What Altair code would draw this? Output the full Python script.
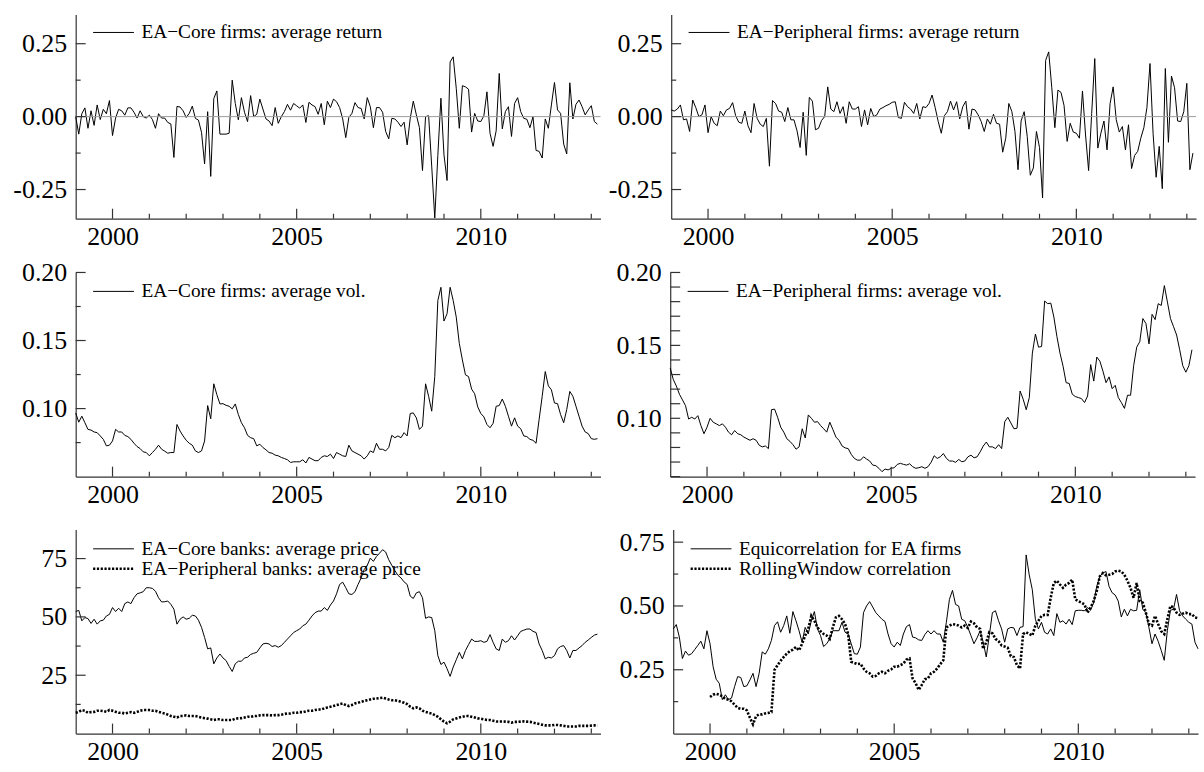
import altair as alt
import pandas as pd

# ---------------- data (monthly, first month Jan 1999) ----------------
START_YEAR = 1999.0

core_ret = [0.00, -0.06, 0.01, 0.03, -0.04, 0.02, -0.03, 0.04, -0.01, 0.025,
 0.01, 0.055, -0.065, -0.005, 0.025, 0.02, 0.005, 0.03, 0.03, 0.015,
 -0.005, 0.02, 0.00, -0.005, 0.005, -0.01, -0.04, 0.01, -0.005, -0.005,
 -0.02, -0.025, -0.14, 0.035, 0.033, 0.02, -0.003, 0.011, 0.036, -0.006,
 -0.012, -0.054, -0.162, 0.017, -0.205, 0.062, 0.088, -0.06, -0.06, -0.06,
 -0.057, 0.125, 0.045, -0.011, 0.065, 0.015, -0.017, 0.072, 0.0, 0.008,
 0.06, 0.026, -0.008, -0.015, -0.031, 0.031, -0.023, 0.0, 0.017, 0.042,
 0.022, 0.045, 0.037, 0.029, 0.04, -0.02, 0.049, 0.04, 0.034, 0.008,
 0.045, -0.028, 0.053, 0.031, 0.060, 0.051, 0.031, -0.008, -0.072, -0.003,
 0.011, 0.048, 0.031, 0.028, -0.008, 0.065, 0.034, -0.038, 0.031, 0.031,
 0.015, -0.051, -0.076, -0.006, -0.008, -0.019, -0.034, -0.019, -0.097, -0.006,
 0.053, 0.006, -0.038, -0.185, 0.0, 0.003, -0.17, -0.348, -0.133, 0.063,
 -0.131, -0.219, 0.1875, 0.205, 0.097, -0.040, 0.106, 0.102, 0.094, -0.053,
 0.011, -0.015, -0.017, 0.003, 0.085, -0.057, -0.102, -0.049, 0.148, -0.042,
 0.017, 0.034, -0.068, 0.045, 0.065, 0.017, -0.006, -0.009, -0.038, 0.0,
 -0.116, -0.119, -0.142, -0.008, -0.040, 0.040, 0.117, 0.023, 0.011, -0.094,
 -0.128, 0.116, -0.008, 0.042, 0.057, 0.034, 0.006, 0.023, 0.0375, -0.017,
 -0.026]

peri_ret = [0.023, 0.019, 0.026, 0.040, -0.011, -0.008, -0.051, 0.057, 0.031, 0.0,
 0.006, 0.040, -0.055, 0.0, -0.023, -0.031, 0.019, 0.003, 0.023, 0.028,
 0.048, 0.003, -0.019, -0.023, 0.019, -0.031, -0.055, 0.045, -0.006, -0.026,
 -0.034, -0.006, -0.170, 0.055, 0.045, 0.019, 0.015, -0.017, 0.031, -0.011,
 -0.011, -0.049, -0.106, 0.015, -0.133, 0.066, 0.053, -0.045, -0.040, -0.013,
 0.0, 0.102, 0.026, 0.017, 0.051, 0.011, 0.034, -0.023, 0.051, 0.026,
 0.026, 0.034, -0.034, 0.023, -0.028, 0.028, 0.0, 0.006, 0.026, 0.031,
 0.0375, 0.042, 0.049, 0.051, -0.003, -0.006, 0.049, 0.034, 0.026, 0.011,
 0.045, -0.008, 0.034, 0.031, 0.045,
 0.074, 0.031, -0.017, -0.057, 0.003, 0.017, 0.053, 0.023, 0.051, -0.008,
 0.034, 0.053, -0.043, 0.026, 0.023, 0.006, -0.017, -0.051, -0.008, -0.026,
 0.008, -0.023, -0.026, -0.122, -0.074, 0.045, 0.017, -0.051, -0.182, -0.015,
 0.017, -0.068, -0.201, -0.176, -0.051, -0.106, -0.279, 0.193, 0.222, 0.099,
 -0.038, 0.091, 0.083, 0.038, -0.085, -0.023, -0.053, -0.057, -0.074, 0.088,
 -0.063, -0.185, 0.011, 0.199, -0.108, -0.057, -0.015, -0.114, 0.045, 0.102,
 -0.011, -0.053, -0.034, -0.114, -0.028, -0.178, -0.133, -0.119, -0.074, -0.038,
 0.031, 0.182, -0.057, -0.208, -0.102, -0.247, 0.165, -0.088, 0.139, 0.099,
 -0.015, -0.017, 0.017, 0.114, -0.182, -0.125]

core_vol = [0.0968, 0.0900, 0.0944, 0.0896, 0.0847, 0.0842, 0.0828, 0.0823, 0.0799, 0.0774,
 0.0726, 0.0731, 0.0762, 0.0847, 0.0828, 0.0828, 0.0803, 0.0794, 0.0774, 0.0745,
 0.0721, 0.0706, 0.0682, 0.0677, 0.0653, 0.0677, 0.0701, 0.0731, 0.0701, 0.0687,
 0.0672, 0.0677, 0.0677, 0.0883, 0.0835, 0.0799, 0.0767, 0.0745, 0.0731, 0.0689,
 0.0677, 0.0689, 0.0762, 0.1022, 0.0925, 0.1182, 0.1102, 0.1034, 0.1036, 0.1024,
 0.1017, 0.0998, 0.1034, 0.0956, 0.0896, 0.0859, 0.0803, 0.0786, 0.0779, 0.0726,
 0.0738, 0.0714, 0.0697, 0.0677, 0.0672, 0.0658, 0.0653, 0.0641, 0.0633, 0.0624,
 0.0604, 0.0609, 0.0609, 0.0609, 0.0624, 0.0600, 0.0641, 0.0629, 0.0617, 0.0617,
 0.0641, 0.0653, 0.0648, 0.0665, 0.0633, 0.0677, 0.0665, 0.0653, 0.0648, 0.0731,
 0.0689, 0.0677, 0.0665, 0.0653, 0.0629, 0.0653, 0.0689, 0.0677, 0.0745, 0.0701,
 0.0701, 0.0689, 0.0714, 0.0803, 0.0786, 0.0799, 0.0786, 0.0823, 0.0799, 0.0964,
 0.0968, 0.0932, 0.0847, 0.0871, 0.1182, 0.1090, 0.0981, 0.1235, 0.1794, 0.1891,
 0.1643, 0.1697, 0.1891, 0.1794, 0.1672, 0.1478, 0.1357, 0.1248, 0.1235, 0.1143,
 0.1109, 0.1012, 0.0964, 0.0939, 0.0883, 0.0859, 0.0891, 0.1017, 0.1022, 0.1070,
 0.1017, 0.0944, 0.0871, 0.0932, 0.0871, 0.0852, 0.0799, 0.0794, 0.0774, 0.0767,
 0.0745, 0.0920, 0.1090, 0.1272, 0.1167, 0.1138, 0.1041, 0.1036, 0.0956, 0.0896,
 0.0993, 0.1126, 0.1090, 0.1017, 0.0944, 0.0871, 0.0828, 0.0816, 0.0779, 0.0774,
 0.0779]

peri_vol = [0.1345, 0.1266, 0.1221, 0.1165, 0.1126, 0.1086, 0.0995, 0.1007, 0.0995, 0.1018,
 0.0950, 0.0894, 0.0939, 0.1000, 0.0973, 0.0962, 0.0950, 0.0962, 0.0939, 0.0905,
 0.0887, 0.0916, 0.0894, 0.0887, 0.0871, 0.0860, 0.0849, 0.0860, 0.0849, 0.0815,
 0.0804, 0.0810, 0.0792, 0.1059, 0.1063, 0.1007, 0.0939, 0.0905, 0.0860, 0.0842,
 0.0819, 0.0788, 0.0804, 0.0928, 0.0865, 0.1023, 0.1000, 0.0973, 0.0977, 0.0950,
 0.0928, 0.0905, 0.0973, 0.0923, 0.0871, 0.0849, 0.0810, 0.0797, 0.0792, 0.0752,
 0.0725, 0.0713, 0.0713, 0.0736, 0.0720, 0.0707, 0.0679, 0.0675, 0.0657, 0.0634,
 0.0652, 0.0646, 0.0657, 0.0661, 0.0684, 0.0691, 0.0684, 0.0679, 0.0688, 0.0668,
 0.0657, 0.0661, 0.0668, 0.0657, 0.0668,
 0.0698, 0.0743, 0.0725, 0.0736, 0.0758, 0.0725, 0.0707, 0.0707, 0.0698, 0.0718,
 0.0702, 0.0707, 0.0736, 0.0747, 0.0729, 0.0736, 0.0770, 0.0810, 0.0837, 0.0804,
 0.0804, 0.0792, 0.0819, 0.0792, 0.0977, 0.1007, 0.0968, 0.0928, 0.0932, 0.1187,
 0.1131, 0.1059, 0.1142, 0.1447, 0.1578, 0.1488, 0.1492, 0.1804, 0.1786, 0.1790,
 0.1695, 0.1560, 0.1447, 0.1357, 0.1244, 0.1239, 0.1165, 0.1149, 0.1142, 0.1135,
 0.1108, 0.1153, 0.1368, 0.1255, 0.1420, 0.1391, 0.1323, 0.1244, 0.1284, 0.1203,
 0.1226, 0.1142, 0.1108, 0.1068, 0.1158, 0.1158, 0.1361, 0.1488, 0.1526, 0.1684,
 0.1650, 0.1510, 0.1713, 0.1677, 0.1786, 0.1774, 0.1910, 0.1797, 0.1684, 0.1628,
 0.1571, 0.1470, 0.1361, 0.1316, 0.1361, 0.1470]

core_price = [52.3, 52.8, 48.3, 49.7, 49.3, 47.2, 49.0, 46.9, 48.3, 48.6,
 50.4, 51.1, 54.0, 52.3, 53.7, 52.3, 55.7, 56.4, 55.7, 58.2,
 59.9, 60.3, 60.8, 62.5, 62.5, 62.2, 61.0, 58.2, 56.4, 56.5,
 56.8, 55.4, 53.3, 46.9, 49.0, 50.0, 49.0, 49.4, 50.7, 50.4,
 48.6, 45.5, 41.2, 36.3, 36.7, 29.9, 32.4, 34.1, 32.4, 31.3,
 28.8, 26.6, 29.9, 31.0, 31.0, 32.4, 32.7, 33.9, 34.4, 34.8,
 36.7, 38.4, 38.7, 38.4, 37.3, 37.7, 37.0, 37.7, 39.1, 40.5,
 41.9, 43.3, 44.1, 44.8, 46.2, 46.9, 48.6, 50.4, 51.8, 52.5,
 52.5, 54.0, 52.8, 55.1, 56.8, 59.9, 63.9, 64.9, 62.5, 59.9,
 59.6, 60.8, 63.9, 66.7, 70.3, 72.1, 75.2, 73.8, 75.9, 77.3,
 78.8, 77.8, 74.5, 72.1, 69.8, 67.8, 66.7, 65.0, 63.9, 58.9,
 57.9, 60.3, 60.8, 58.2, 49.4, 50.0, 49.7, 44.1, 33.4, 29.6,
 30.6, 27.8, 24.5, 28.5, 31.6, 34.8, 32.0, 35.6, 38.1, 40.5,
 39.5, 39.5, 39.8, 39.1, 39.5, 42.4, 39.1, 36.3, 35.6, 40.5,
 39.1, 39.8, 41.9, 40.1, 41.9, 43.8, 44.3, 44.8, 44.8, 43.8,
 43.3, 38.4, 35.6, 32.0, 32.7, 32.4, 33.4, 36.3, 37.3, 37.7,
 35.6, 32.4, 35.6, 35.6, 36.7, 37.7, 39.1, 40.1, 41.2, 42.2,
 42.6]

peri_price = [8.9, 9.3, 10.1, 9.8, 8.9, 9.2, 9.3, 9.8, 9.8, 9.6,
 9.3, 10.1, 9.8, 9.3, 8.9, 8.9, 8.6, 8.9, 9.2, 8.9,
 9.3, 9.8, 10.1, 10.1, 10.1, 9.8, 9.8, 9.3, 8.9, 8.6,
 8.1, 7.5, 7.2, 6.9, 7.5, 7.5, 7.8, 7.5, 7.5, 7.5,
 7.2, 6.9, 6.6, 6.4, 6.1, 5.8, 6.1, 6.1, 5.8, 5.8,
 5.8, 5.8, 6.4, 6.5, 6.6, 6.9, 7.2, 7.2, 7.5, 7.5,
 7.8, 7.9, 7.9, 7.9, 7.8, 7.9, 7.9, 8.1, 8.4, 8.6,
 8.6, 8.9, 8.9, 9.2, 9.2, 9.5, 9.8, 9.8, 10.1, 10.3,
 10.3, 10.8, 11.2, 11.5, 11.8, 12.2, 12.6, 12.9, 12.2, 11.8,
 12.2, 12.9, 13.2, 13.6, 14.0, 14.3, 14.6, 14.9, 15.0, 15.2,
 15.4, 15.0, 14.6, 14.3, 14.3, 14.0, 13.6, 13.2, 12.6, 11.5,
 10.8, 11.2, 10.8, 9.8, 9.3, 8.9, 8.6, 7.9, 7.2, 6.1,
 5.1, 4.4, 5.1, 6.1, 6.5, 6.9, 7.2, 7.5, 7.5, 7.2,
 6.9, 6.5, 6.4, 6.1, 5.8, 5.8, 5.5, 5.2, 5.2, 5.2,
 5.1, 5.0, 4.7, 5.0, 5.0, 5.1, 5.2, 5.1, 5.0, 4.7,
 4.4, 4.1, 3.8, 3.5, 3.5, 3.5, 3.7, 3.7, 3.5, 3.3,
 3.0, 3.0, 3.0, 3.0, 3.3, 3.3, 3.3, 3.3, 3.4, 3.5,
 3.5]

equicorr = [0.410, 0.427, 0.378, 0.294, 0.323, 0.307, 0.313, 0.329, 0.345, 0.362,
 0.332, 0.403, 0.352, 0.262, 0.213, 0.197, 0.133, 0.152, 0.133, 0.139,
 0.184, 0.223, 0.220, 0.184, 0.187, 0.210, 0.236, 0.184, 0.236, 0.320,
 0.311, 0.332, 0.365, 0.423, 0.438, 0.397, 0.423, 0.461, 0.393, 0.478,
 0.442, 0.403, 0.358, 0.416, 0.390, 0.442, 0.478, 0.410, 0.384, 0.341,
 0.352, 0.371, 0.403, 0.403, 0.403, 0.436, 0.397, 0.390, 0.352, 0.313,
 0.311, 0.339, 0.474, 0.500, 0.517, 0.496, 0.474, 0.461, 0.448, 0.439,
 0.390, 0.352, 0.339, 0.358, 0.345, 0.390, 0.419, 0.427, 0.378, 0.375,
 0.367, 0.365, 0.388, 0.403, 0.390,
 0.403, 0.390, 0.390, 0.358, 0.436, 0.526, 0.561, 0.506, 0.500, 0.448,
 0.442, 0.416, 0.384, 0.352, 0.375, 0.403, 0.358, 0.300, 0.384, 0.474,
 0.481, 0.442, 0.410, 0.358, 0.410, 0.416, 0.414, 0.384, 0.416, 0.419,
 0.700, 0.622, 0.564, 0.448, 0.410, 0.436, 0.397, 0.390, 0.410, 0.384,
 0.470, 0.436, 0.442, 0.429, 0.448, 0.427, 0.481, 0.483, 0.483, 0.481,
 0.494, 0.483, 0.513, 0.577, 0.616, 0.629, 0.635, 0.577, 0.552, 0.543,
 0.519, 0.457, 0.487, 0.461, 0.487, 0.481, 0.483, 0.564, 0.487, 0.474,
 0.416, 0.352, 0.390, 0.362, 0.326, 0.287, 0.403, 0.483, 0.487, 0.545,
 0.481, 0.461, 0.448, 0.436, 0.429, 0.358, 0.332]

rolling_start_month = 12  # rolling-window series begins Jan 2000
rolling_corr = [0.143, 0.152, 0.156, 0.152, 0.146, 0.135, 0.133, 0.126, 0.113, 0.101,
 0.097, 0.097, 0.091, 0.062, 0.036, 0.068, 0.075, 0.075, 0.079, 0.081,
 0.084, 0.249, 0.268, 0.285, 0.300, 0.313, 0.323, 0.329, 0.339, 0.326,
 0.352, 0.384, 0.410, 0.461, 0.442, 0.416, 0.401, 0.390, 0.384, 0.371,
 0.416, 0.455, 0.461, 0.448, 0.429, 0.390, 0.281, 0.277, 0.272, 0.274,
 0.255, 0.242, 0.236, 0.223, 0.226, 0.236, 0.242, 0.236, 0.246, 0.251,
 0.262, 0.262, 0.268, 0.274, 0.290, 0.294, 0.216, 0.197, 0.171, 0.191,
 0.213, 0.216, 0.236,
 0.242, 0.255, 0.272, 0.287, 0.416, 0.423, 0.429, 0.427, 0.423, 0.416,
 0.423, 0.414, 0.439, 0.432, 0.416, 0.410, 0.332, 0.358, 0.397, 0.393,
 0.371, 0.362, 0.345, 0.341, 0.336, 0.303, 0.300, 0.268, 0.255, 0.390,
 0.397, 0.390, 0.384, 0.423, 0.442, 0.461, 0.465, 0.465, 0.532, 0.590,
 0.599, 0.584, 0.571, 0.584, 0.590, 0.603, 0.526, 0.519, 0.513, 0.506,
 0.474, 0.494, 0.519, 0.558, 0.616, 0.629, 0.620, 0.622, 0.625, 0.635,
 0.638, 0.635, 0.622, 0.599, 0.571, 0.532, 0.590, 0.519, 0.513, 0.474,
 0.429, 0.423, 0.461, 0.429, 0.401, 0.390, 0.448, 0.500, 0.494, 0.474,
 0.465, 0.470, 0.474, 0.468, 0.468, 0.455, 0.452]

# axis tick values / labels
x_labels = [2000, 2005, 2010]
x_minor = [2001, 2002, 2003, 2004, 2006, 2007, 2008, 2009, 2011, 2012, 2013]
ret_labels = [-0.25, 0.0, 0.25]
ret_minor = [-0.125, 0.125]
cvol_labels = [0.10, 0.15, 0.20]
cvol_minor = [0.075, 0.125, 0.175]
pvol_labels = [0.10, 0.15, 0.20]
pvol_minor = [0.06, 0.07, 0.08, 0.09, 0.11, 0.12, 0.13, 0.14, 0.16, 0.17, 0.18, 0.19]
price_labels = [25, 50, 75]
price_minor = [12.5, 37.5, 62.5]
corr_labels = [0.25, 0.50, 0.75]
corr_minor = [0.125, 0.375, 0.625]

# ---------------- styling ----------------
W, H = 527, 205
XDOM = [1999.0, 2013.25]
FONT = "Liberation Serif"
AXC = "#333333"
YEXT = 66
DOTTED = dict(color="black", strokeWidth=2.6, strokeDash=[2.2, 1.6])
SOLID = dict(color="black", strokeWidth=1.0)


def frame(vals, start=0):
    return pd.DataFrame({"t": [START_YEAR + (start + k) / 12.0 for k in range(len(vals))],
                         "v": vals})


def panel(series, ydom, ylabels, yminor, legend, zero=False, fmt=".2f",
          maj_len=10, min_len=5, xext=36, legend_top=18):
    xs = alt.Scale(domain=XDOM, nice=False, zero=False)
    ys = alt.Scale(domain=ydom, nice=False, zero=False)
    if fmt == "d":
        lexpr = "format(datum.value, 'd')"
    else:
        lexpr = ("datum.value < 0 ? '-' + format(-datum.value, '%s') : format(datum.value, '%s')"
                 % (fmt, fmt))
    xaxis = alt.Axis(values=x_labels, format="d", title=None, grid=False, ticks=False,
                     labelPadding=5, labelFont=FONT, labelFontSize=26,
                     labelColor="black", domainColor=AXC, domainWidth=1.2,
                     minExtent=xext, maxExtent=xext)
    yaxis = alt.Axis(values=ylabels, labelExpr=lexpr, title=None, grid=False, ticks=False,
                     labelPadding=9, labelFont=FONT, labelFontSize=26,
                     labelColor="black", domainColor=AXC, domainWidth=1.2,
                     minExtent=YEXT, maxExtent=YEXT)
    X = lambda f: alt.X(f, scale=xs, axis=xaxis)
    Y = lambda f: alt.Y(f, scale=ys, axis=yaxis)
    layers = []
    for vals, start, dotted in series:
        mk = DOTTED if dotted else SOLID
        layers.append(alt.Chart(frame(vals, start)).mark_line(**mk).encode(
            x=X("t:Q"), y=Y("v:Q")))
    if zero:
        layers.append(alt.Chart(pd.DataFrame({"v": [0.0]})).mark_rule(
            color="#9a9a9a", strokeWidth=1).encode(y=Y("v:Q")))
    # inward ticks
    layers.append(alt.Chart(pd.DataFrame({"v": ylabels})).mark_rule(color=AXC, strokeWidth=1.2).encode(
        y=Y("v:Q"), x=alt.value(0), x2=alt.value(maj_len)))
    if yminor:
        layers.append(alt.Chart(pd.DataFrame({"v": yminor})).mark_rule(color=AXC, strokeWidth=1.2).encode(
            y=Y("v:Q"), x=alt.value(0), x2=alt.value(min_len)))
    layers.append(alt.Chart(pd.DataFrame({"t": x_labels})).mark_rule(color=AXC, strokeWidth=1.2).encode(
        x=X("t:Q"), y=alt.value(H), y2=alt.value(H - 10)))
    layers.append(alt.Chart(pd.DataFrame({"t": x_minor})).mark_rule(color=AXC, strokeWidth=1.2).encode(
        x=X("t:Q"), y=alt.value(H), y2=alt.value(H - 5)))
    # legend
    for k, (label, dotted) in enumerate(legend):
        yy = legend_top + 20 * k
        mk = DOTTED if dotted else SOLID
        ldf = pd.DataFrame({"label": [label]})
        layers.append(alt.Chart(ldf).mark_rule(**mk).encode(
            x=alt.value(17.5), x2=alt.value(58.5), y=alt.value(yy)))
        layers.append(alt.Chart(ldf).mark_text(align="left", baseline="middle", font=FONT,
                                                fontSize=19.4, color="black").encode(
            x=alt.value(66), y=alt.value(yy), text="label:N"))
    return alt.layer(*layers).properties(width=W, height=H)


p1 = panel([(core_ret, 0, False)], [-0.35, 0.35], ret_labels, ret_minor,
           [("EA\u2212Core firms: average return", False)], zero=True)
p2 = panel([(peri_ret, 0, False)], [-0.35, 0.35], ret_labels, ret_minor,
           [("EA\u2212Peripheral firms: average return", False)], zero=True)
p3 = panel([(core_vol, 0, False)], [0.05, 0.20], cvol_labels, cvol_minor,
           [("EA\u2212Core firms: average vol.", False)], xext=47, legend_top=19)
p4 = panel([(peri_vol, 0, False)], [0.06, 0.20], pvol_labels, pvol_minor,
           [("EA\u2212Peripheral firms: average vol.", False)], min_len=10, xext=47,
           legend_top=19)
p5 = panel([(core_price, 0, False), (peri_price, 0, True)], [0, 87.5], price_labels, price_minor,
           [("EA\u2212Core banks: average price", False),
            ("EA\u2212Peripheral banks: average price", True)], fmt="d", legend_top=19.5)
p6 = panel([(equicorr, 0, False), (rolling_corr, rolling_start_month, True)], [0, 0.8],
           corr_labels, corr_minor,
           [("Equicorrelation for EA firms", False),
            ("RollingWindow correlation", True)], legend_top=19.5)

row1 = alt.hconcat(p1, p2, spacing=4)
row2 = alt.hconcat(p3, p4, spacing=4)
row3 = alt.hconcat(p5, p6, spacing=4)

chart = alt.vconcat(row1, row2, row3, spacing=5).properties(
    padding={"left": 10, "top": 13, "right": 0, "bottom": 0},
    background="white",
).configure_view(stroke=None)

chart.save("out.html", embed_options={"renderer": "svg", "actions": False})
